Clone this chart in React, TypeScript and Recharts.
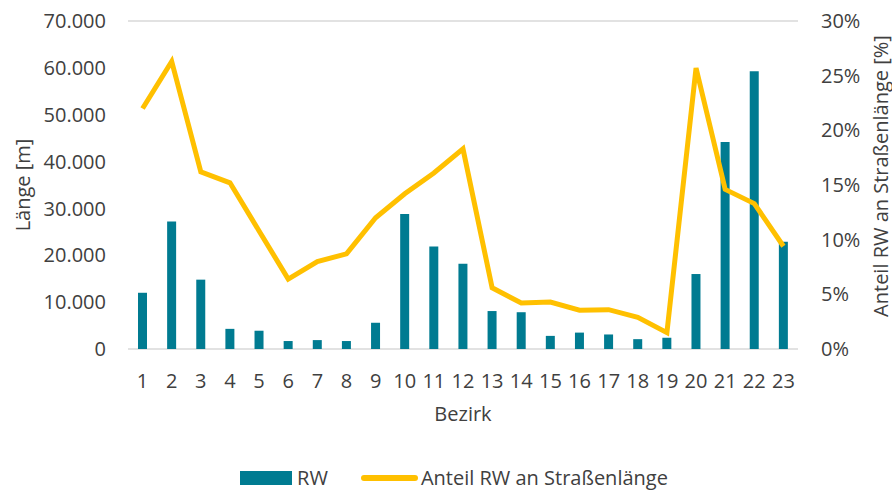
import React from 'react'
import { ComposedChart, Bar, Line, XAxis, YAxis, CartesianGrid, Legend } from 'recharts'

const bezirke = ['1', '2', '3', '4', '5', '6', '7', '8', '9', '10', '11', '12', '13', '14', '15', '16', '17', '18', '19', '20', '21', '22', '23']
const rwLaenge = [12000, 27200, 14800, 4300, 3900, 1700, 1900, 1700, 5600, 28800, 21900, 18200, 8100, 7850, 2800, 3500, 3100, 2100, 2400, 16000, 44200, 59250, 22900]
const anteil = [22.0, 26.3, 16.2, 15.2, 10.8, 6.4, 8.0, 8.7, 12.0, 14.2, 16.1, 18.3, 5.6, 4.2, 4.3, 3.55, 3.6, 2.9, 1.5, 25.7, 14.6, 13.3, 9.4]
const leftTicks = [0, 10000, 20000, 30000, 40000, 50000, 60000, 70000]
const rightTicks = [0, 5, 10, 15, 20, 25, 30]

const data = bezirke.map((b, i) => ({ bezirk: b, rw: rwLaenge[i], anteil: anteil[i] }))

const TEAL = '#007B91'
const GOLD = '#FFC000'
const TEXT = '#404040'
const FONT = '"Open Sans", sans-serif'

const fmtThousands = (v: number) => v.toLocaleString('de-DE')

const LegendBox = () => (
    <div style={{ display: 'flex', alignItems: 'center', justifyContent: 'center', paddingLeft: 16, paddingTop: 18, lineHeight: '22px', fontFamily: FONT, fontSize: 20, color: TEXT }}>
        <span style={{ display: 'inline-block', width: 52, height: 14, background: TEAL, marginRight: 5 }} />
        <span style={{ marginRight: 33 }}>RW</span>
        <span style={{ display: 'inline-block', width: 57, height: 6, borderRadius: 3, background: GOLD, marginRight: 3 }} />
        <span>Anteil RW an Straßenlänge</span>
    </div>
)

export default function App() {
    return (
        <div style={{ position: 'absolute', left: 0, top: 0, width: 892, height: 497, background: '#fff' }}>
            <ComposedChart width={892} height={497} data={data} margin={{ top: 21, right: 0, left: 0, bottom: 8 }}>
                <CartesianGrid vertical={false} stroke="#D9D9D9" strokeWidth={1.5} />
                <XAxis
                    dataKey="bezirk"
                    axisLine={false}
                    tickLine={false}
                    tickSize={0}
                    tickMargin={25}
                    height={100}
                    interval={0}
                    tick={{ fill: TEXT, fontSize: 20, fontFamily: FONT }}
                    label={({ viewBox }: any) => (
                        <text x={viewBox.x + viewBox.width / 2} y={413} textAnchor="middle" dominantBaseline="central" fill={TEXT} fontSize={20} fontFamily={FONT}>
                            Bezirk
                        </text>
                    )}
                />
                <YAxis
                    yAxisId="left"
                    width={128}
                    domain={[0, 70000]}
                    ticks={leftTicks}
                    tickFormatter={fmtThousands}
                    axisLine={false}
                    tickLine={false}
                    tickSize={0}
                    tickMargin={22}
                    tick={{ fill: TEXT, fontSize: 20, fontFamily: FONT }}
                    label={({ viewBox }: any) => (
                        <text
                            x={22}
                            y={viewBox.y + viewBox.height / 2}
                            transform={`rotate(-90 22 ${viewBox.y + viewBox.height / 2})`}
                            textAnchor="middle"
                            dominantBaseline="central"
                            fill={TEXT}
                            fontSize={20}
                            fontFamily={FONT}
                        >
                            Länge [m]
                        </text>
                    )}
                />
                <YAxis
                    yAxisId="right"
                    orientation="right"
                    width={94}
                    domain={[0, 30]}
                    ticks={rightTicks}
                    tickFormatter={(v: number) => `${v}%`}
                    axisLine={false}
                    tickLine={false}
                    tickSize={0}
                    tickMargin={23}
                    tick={{ fill: TEXT, fontSize: 20, fontFamily: FONT, textAnchor: 'start' }}
                    label={() => (
                        <text
                            x={880}
                            y={176}
                            transform="rotate(-90 880 176)"
                            textAnchor="middle"
                            dominantBaseline="central"
                            fill={TEXT}
                            fontSize={20}
                            fontFamily={FONT}
                        >
                            Anteil RW an Straßenlänge [%]
                        </text>
                    )}
                />
                <Legend verticalAlign="bottom" content={() => <LegendBox />} wrapperStyle={{ height: 40, overflow: 'visible' }} />
                <Bar yAxisId="left" dataKey="rw" name="RW" fill={TEAL} barSize={9} isAnimationActive={false} />
                <Line yAxisId="right" dataKey="anteil" name="Anteil RW an Straßenlänge" stroke={GOLD} strokeWidth={5} dot={false} type="linear" isAnimationActive={false} />
            </ComposedChart>
        </div>
    )
}
